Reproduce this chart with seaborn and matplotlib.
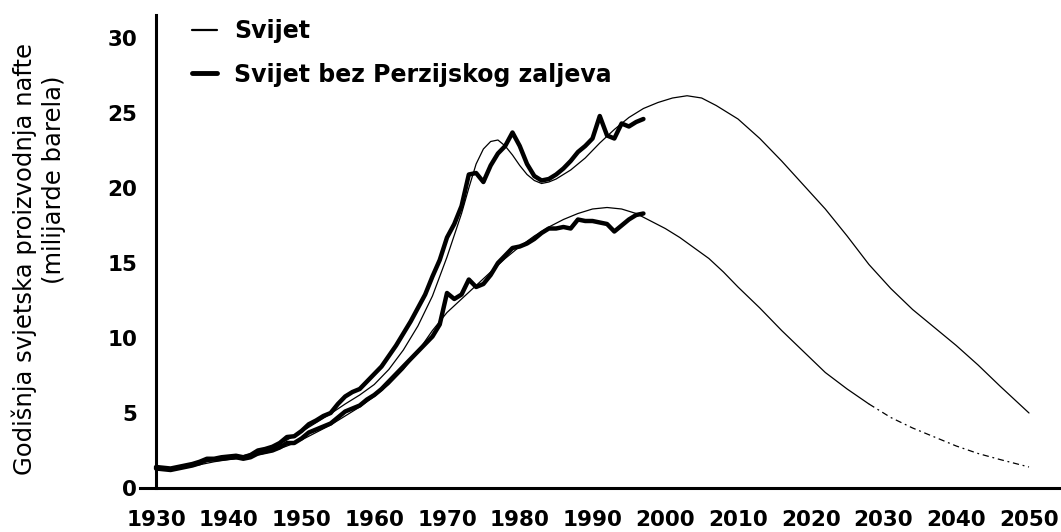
import matplotlib
matplotlib.use("Agg")
import matplotlib.pyplot as plt
import seaborn as sns
import pandas as pd
from matplotlib.lines import Line2D

# ---------------- data ----------------
# Observed production, world (thick upper), Gb/yr
years_obs = list(range(1930, 1998))
world_obs = [1.4, 1.35, 1.3, 1.4, 1.5, 1.6, 1.75, 1.95, 1.95, 2.05, 2.1, 2.15, 2.05, 2.2, 2.5, 2.6,
             2.75, 3.0, 3.4, 3.45, 3.8, 4.25, 4.5, 4.8, 5.0, 5.6, 6.1, 6.4, 6.6, 7.1, 7.6, 8.1,
             8.8, 9.5, 10.3, 11.1, 12.0, 12.9, 14.1, 15.2, 16.7, 17.6, 18.8, 20.9, 21.0, 20.4,
             21.5, 22.3, 22.8, 23.7, 22.8, 21.6, 20.8, 20.5, 20.6, 20.9, 21.3, 21.8, 22.4, 22.8,
             23.3, 24.8, 23.5, 23.3, 24.3, 24.1, 24.4, 24.6]
# Observed production, world without Persian Gulf (thick lower)
nongulf_obs = [1.3, 1.25, 1.2, 1.3, 1.4, 1.5, 1.65, 1.9, 1.9, 1.95, 2.0, 2.05, 1.95, 2.05, 2.3, 2.4,
               2.5, 2.7, 3.0, 3.0, 3.3, 3.7, 3.9, 4.1, 4.3, 4.7, 5.1, 5.3, 5.5, 5.9, 6.2, 6.6,
               7.1, 7.6, 8.1, 8.6, 9.1, 9.6, 10.1, 10.9, 13.0, 12.6, 12.9, 13.9, 13.4, 13.6,
               14.2, 15.0, 15.5, 16.0, 16.1, 16.3, 16.6, 17.0, 17.3, 17.3, 17.4, 17.3, 17.9, 17.8,
               17.8, 17.7, 17.6, 17.1, 17.5, 17.9, 18.2, 18.3]

# Modelled curves (thin)
years_world_fit = [1930, 1932, 1934, 1936, 1938, 1940, 1942, 1944, 1946, 1948, 1950, 1952, 1954,
                   1956, 1958, 1960, 1962, 1964, 1966, 1968, 1970, 1972, 1973, 1974, 1975, 1976,
                   1977, 1978, 1979, 1980, 1981, 1982, 1983, 1984, 1985, 1987, 1989, 1991, 1993,
                   1995, 1997, 1999, 2001, 2003, 2005, 2007, 2010, 2013, 2016, 2019, 2022, 2025,
                   2028, 2031, 2034, 2037, 2040, 2043, 2046, 2050]
world_fit = [1.3, 1.35, 1.45, 1.65, 1.85, 2.0, 2.15, 2.4, 2.75, 3.2, 3.75, 4.35, 4.95, 5.6, 6.2,
             6.9, 7.9, 9.2, 10.8, 12.8, 15.4, 18.3, 20.0, 21.6, 22.6, 23.1, 23.2, 22.8, 22.2,
             21.5, 20.9, 20.5, 20.3, 20.4, 20.6, 21.2, 22.0, 23.0, 23.9, 24.7, 25.3, 25.7, 26.0,
             26.15, 26.0, 25.5, 24.6, 23.3, 21.8, 20.2, 18.6, 16.8, 14.9, 13.3, 11.9, 10.7, 9.5,
             8.2, 6.8, 5.0]

years_nongulf_fit = [1930, 1932, 1934, 1936, 1938, 1940, 1942, 1944, 1946, 1948, 1950, 1952, 1954,
                     1956, 1958, 1960, 1962, 1964, 1966, 1968, 1970, 1972, 1974, 1976, 1978, 1980,
                     1982, 1984, 1986, 1988, 1990, 1992, 1994, 1996, 1998, 2000, 2002, 2004, 2006,
                     2008, 2010, 2013, 2016, 2019, 2022, 2025, 2028, 2031, 2034, 2037, 2040, 2043,
                     2046, 2050]
nongulf_fit = [1.2, 1.25, 1.35, 1.55, 1.75, 1.9, 2.0, 2.2, 2.45, 2.8, 3.2, 3.7, 4.2, 4.8, 5.4,
               6.1, 6.9, 7.9, 9.1, 10.5, 11.7, 12.6, 13.5, 14.4, 15.3, 16.1, 16.8, 17.4, 17.9,
               18.3, 18.6, 18.7, 18.6, 18.3, 17.8, 17.3, 16.7, 16.0, 15.3, 14.4, 13.4, 12.0, 10.5,
               9.1, 7.7, 6.6, 5.6, 4.7, 4.0, 3.4, 2.8, 2.3, 1.9, 1.4]

x_ticks = [1930, 1940, 1950, 1960, 1970, 1980, 1990, 2000, 2010, 2020, 2030, 2040, 2050]
y_ticks = [0, 5, 10, 15, 20, 25, 30]
legend_labels = ["Svijet", "Svijet bez Perzijskog zaljeva"]
ylabel_line1 = "Godišnja svjetska proizvodnja nafte"
ylabel_line2 = "(milijarde barela)"

# ---------------- plot ----------------
sns.set_style("white")
plt.rcParams["font.family"] = ["DejaVu Sans"]
plt.rcParams["text.color"] = "black"
plt.rcParams["xtick.color"] = "black"
plt.rcParams["ytick.color"] = "black"

W, H = 1061, 532
fig = plt.figure(figsize=(W / 100, H / 100), dpi=100)
px_per_year = 7.275
px_per_unit = 15.0
x_spine_px, xl_px, x1_px, y0_px, ytop_px = 156, 140, 1061, 488, 15
ax = fig.add_axes([xl_px / W, (H - y0_px) / H, (x1_px - xl_px) / W, (y0_px - ytop_px) / H])

xmin = 1930 - (x_spine_px - xl_px) / px_per_year
xmax = 1930 + (x1_px - x_spine_px) / px_per_year
ymax = (y0_px - ytop_px) / px_per_unit

df_obs = pd.DataFrame({"year": years_obs, "world": world_obs, "nongulf": nongulf_obs})
df_wf = pd.DataFrame({"year": years_world_fit, "v": world_fit})
df_nf = pd.DataFrame({"year": years_nongulf_fit, "v": nongulf_fit})

thin = 0.9
thick = 3.2
sns.lineplot(data=df_wf, x="year", y="v", ax=ax, color="black", lw=thin, sort=False)
sns.lineplot(data=df_nf[df_nf["year"] <= 2028], x="year", y="v", ax=ax, color="black",
             lw=thin, sort=False)
sns.lineplot(data=df_nf[df_nf["year"] >= 2028], x="year", y="v", ax=ax, color="black",
             lw=thin, sort=False, linestyle=(0, (5, 3, 1.5, 3)))
sns.lineplot(data=df_obs, x="year", y="world", ax=ax, color="black", lw=thick, sort=False)
sns.lineplot(data=df_obs, x="year", y="nongulf", ax=ax, color="black", lw=thick, sort=False)

ax.set_xlim(xmin, xmax)
ax.set_ylim(0, ymax)
ax.set_xticks(x_ticks)
ax.set_yticks(y_ticks)
ax.set_xticklabels([str(t) for t in x_ticks])
ax.set_yticklabels([str(t) for t in y_ticks])
ax.set_xlabel("")
ax.set_ylabel("")

for s in ["top", "right"]:
    ax.spines[s].set_visible(False)
for s in ["left", "bottom"]:
    ax.spines[s].set_color("black")
    ax.spines[s].set_linewidth(2.2)
ax.spines["left"].set_position(("data", 1930))

ax.tick_params(axis="both", direction="inout", length=13, width=1.3, color="black",
               labelsize=15.5, labelcolor="black")
for lab in ax.get_xticklabels() + ax.get_yticklabels():
    lab.set_fontweight("bold")
ax.tick_params(axis="x", pad=9)
ax.tick_params(axis="y", pad=7)

fig.text(24 / W, 1 - 259 / H, ylabel_line1, rotation=90, ha="center", va="center",
         fontsize=17.5, color="black")
fig.text(54 / W, 1 - 180 / H, ylabel_line2, rotation=90, ha="center", va="center",
         fontsize=17.5, color="black")

handles = [Line2D([0], [0], color="black", lw=1.6),
           Line2D([0], [0], color="black", lw=3.5)]
leg = ax.legend(handles, legend_labels, loc="upper left",
                bbox_to_anchor=(171 / W, 1 + 2 / H), bbox_transform=fig.transFigure,
                frameon=False, handlelength=1.05, handletextpad=0.72, labelspacing=0.82,
                prop={"size": 17, "weight": "bold"})
for t in leg.get_texts():
    t.set_color("black")

fig.savefig("out.png", dpi=100, facecolor="white")
